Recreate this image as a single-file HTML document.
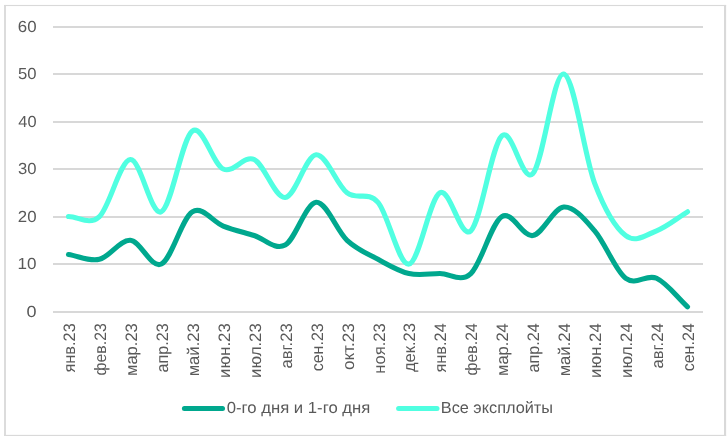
<!DOCTYPE html>
<html lang="ru"><head><meta charset="utf-8"><title>Chart</title>
<style>html,body{margin:0;padding:0;background:#fff;}body{width:727px;height:436px;overflow:hidden;}svg{display:block;will-change:transform;}text{font-family:"Liberation Sans","DejaVu Sans",sans-serif;font-size:16px;fill:#595959;text-rendering:geometricPrecision;}</style></head><body>
<svg width="727" height="436" viewBox="0 0 727 436">
<rect x="0" y="0" width="727" height="436" fill="#fff"/>
<rect x="4.1" y="4.95" width="1.8" height="431.05" fill="#D9D9D9"/>
<rect x="724" y="4.95" width="2.1" height="431.05" fill="#D9D9D9"/>
<rect x="4.1" y="4.95" width="722" height="1.1" fill="#D9D9D9"/>
<rect x="4.1" y="434.85" width="722" height="1.15" fill="#D9D9D9"/>
<rect x="53.0" y="311" width="650.0" height="2" fill="#D8D8D8"/>
<rect x="53.0" y="263" width="650.0" height="2" fill="#D8D8D8"/>
<rect x="53.0" y="216" width="650.0" height="2" fill="#D8D8D8"/>
<rect x="53.0" y="168" width="650.0" height="2" fill="#D8D8D8"/>
<rect x="53.0" y="121" width="650.0" height="2" fill="#D8D8D8"/>
<rect x="53.0" y="73" width="650.0" height="2" fill="#D8D8D8"/>
<rect x="53.0" y="26" width="650.0" height="2" fill="#D8D8D8"/>
<text transform="translate(26.58,317.05) scale(1.1257,1.0027)">0</text>
<text transform="translate(17.62,269.05) scale(1.0652,1.0027)">10</text>
<text transform="translate(17.86,222.05) scale(1.0513,1.0027)">20</text>
<text transform="translate(18.08,174.05) scale(1.0386,1.0027)">30</text>
<text transform="translate(18.33,127.05) scale(1.0238,1.0027)">40</text>
<text transform="translate(18.03,79.05) scale(1.0412,1.0027)">50</text>
<text transform="translate(17.86,32.05) scale(1.0513,1.0027)">60</text>
<text transform="translate(74.98,372.51) rotate(-90) scale(1.0211,1.0336)">янв.23</text>
<text transform="translate(105.93,375.42) rotate(-90) scale(0.9876,1.0336)">фев.23</text>
<text transform="translate(136.88,375.91) rotate(-90) scale(1.0317,1.0336)">мар.23</text>
<text transform="translate(167.83,372.54) rotate(-90) scale(1.0123,1.0336)">апр.23</text>
<text transform="translate(198.79,376.31) rotate(-90) scale(1.0390,1.0336)">май.23</text>
<text transform="translate(229.74,377.93) rotate(-90) scale(1.0518,1.0336)">июн.23</text>
<text transform="translate(260.69,377.92) rotate(-90) scale(1.0485,1.0336)">июл.23</text>
<text transform="translate(291.64,368.56) rotate(-90) scale(1.0413,1.0336)">авг.23</text>
<text transform="translate(322.60,371.33) rotate(-90) scale(1.0021,1.0336)">сен.23</text>
<text transform="translate(353.55,370.08) rotate(-90) scale(1.0687,1.0336)">окт.23</text>
<text transform="translate(384.50,373.81) rotate(-90) scale(1.0397,1.0336)">ноя.23</text>
<text transform="translate(415.45,372.11) rotate(-90) scale(1.0300,1.0336)">дек.23</text>
<text transform="translate(446.40,372.51) rotate(-90) scale(1.0211,1.0336)">янв.24</text>
<text transform="translate(477.36,375.42) rotate(-90) scale(0.9876,1.0336)">фев.24</text>
<text transform="translate(508.31,375.91) rotate(-90) scale(1.0317,1.0336)">мар.24</text>
<text transform="translate(539.26,372.54) rotate(-90) scale(1.0123,1.0336)">апр.24</text>
<text transform="translate(570.21,376.31) rotate(-90) scale(1.0390,1.0336)">май.24</text>
<text transform="translate(601.17,377.93) rotate(-90) scale(1.0518,1.0336)">июн.24</text>
<text transform="translate(632.12,377.92) rotate(-90) scale(1.0485,1.0336)">июл.24</text>
<text transform="translate(663.07,368.56) rotate(-90) scale(1.0413,1.0336)">авг.24</text>
<text transform="translate(694.02,371.33) rotate(-90) scale(1.0021,1.0336)">сен.24</text>
<path d="M68.48,216.55 C78.79,216.55 89.11,226.05 99.43,216.55 C109.75,207.05 120.06,160.34 130.38,159.55 C140.70,158.76 151.02,216.55 161.33,211.80 C171.65,207.05 181.97,138.18 192.29,131.05 C202.60,123.93 212.92,164.30 223.24,169.05 C233.56,173.80 243.87,154.80 254.19,159.55 C264.51,164.30 274.83,198.34 285.14,197.55 C295.46,196.76 305.78,155.59 316.10,154.80 C326.41,154.01 336.73,184.88 347.05,192.80 C357.37,200.72 367.68,190.43 378.00,202.30 C388.32,214.18 398.63,265.63 408.95,264.05 C419.27,262.47 429.59,198.34 439.90,192.80 C450.22,187.26 460.54,240.30 470.86,230.80 C481.17,221.30 491.49,145.30 501.81,135.80 C512.13,126.30 522.44,184.09 532.76,173.80 C543.08,163.51 553.40,72.47 563.71,74.05 C574.03,75.63 584.35,156.38 594.67,183.30 C604.98,210.22 615.30,227.63 625.62,235.55 C635.94,243.47 646.25,234.76 656.57,230.80 C666.89,226.84 677.21,218.13 687.52,211.80" fill="none" stroke="#50FFE1" stroke-width="5.1" stroke-linecap="round" stroke-linejoin="round"/>
<path d="M68.48,254.55 C78.79,256.13 89.11,261.68 99.43,259.30 C109.75,256.93 120.06,239.51 130.38,240.30 C140.70,241.09 151.02,268.80 161.33,264.05 C171.65,259.30 181.97,218.13 192.29,211.80 C202.60,205.47 212.92,222.09 223.24,226.05 C233.56,230.01 243.87,232.38 254.19,235.55 C264.51,238.72 274.83,250.59 285.14,245.05 C295.46,239.51 305.78,203.09 316.10,202.30 C326.41,201.51 336.73,230.80 347.05,240.30 C357.37,249.80 367.68,253.76 378.00,259.30 C388.32,264.84 398.63,271.18 408.95,273.55 C419.27,275.93 429.59,273.55 439.90,273.55 C450.22,273.55 460.54,283.05 470.86,273.55 C481.17,264.05 491.49,222.88 501.81,216.55 C512.13,210.22 522.44,237.13 532.76,235.55 C543.08,233.97 553.40,207.84 563.71,207.05 C574.03,206.26 584.35,218.93 594.67,230.80 C604.98,242.68 615.30,270.38 625.62,278.30 C635.94,286.22 646.25,273.55 656.57,278.30 C666.89,283.05 677.21,297.30 687.52,306.80" fill="none" stroke="#00A88E" stroke-width="5.1" stroke-linecap="round" stroke-linejoin="round"/>
<line x1="184.4" y1="408.4" x2="222.5" y2="408.4" stroke="#00A88E" stroke-width="5" stroke-linecap="round"/>
<text transform="translate(226.63,413.00) scale(1.0443,1.0027)">0-го дня и 1-го дня</text>
<line x1="398.6" y1="408.4" x2="437.0" y2="408.4" stroke="#50FFE1" stroke-width="5" stroke-linecap="round"/>
<text transform="translate(440.76,413.00) scale(1.0186,1.0027)">Все эксплойты</text>
</svg></body></html>
